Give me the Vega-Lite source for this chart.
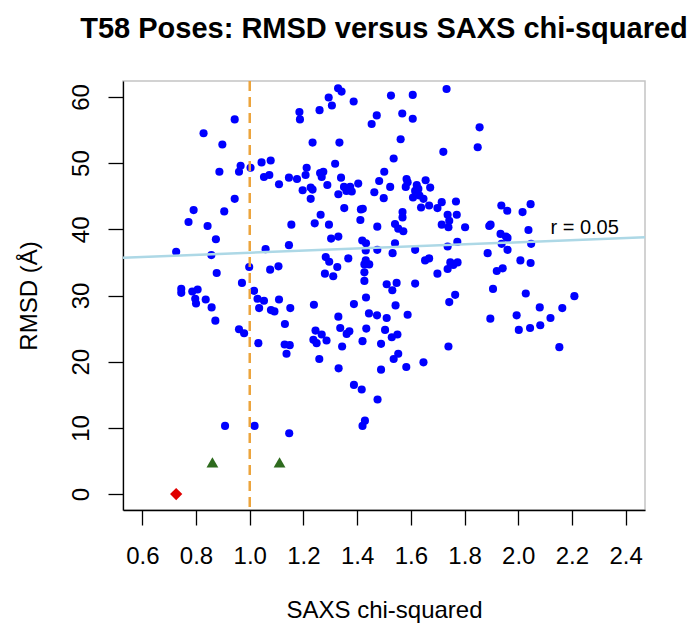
{
"$schema": "https://vega.github.io/schema/vega-lite/v6.json",
"width": 522, "height": 429,
"autosize": {"type": "none"},
"padding": {"left": 123, "top": 81, "right": 54, "bottom": 124},
"background": "white",
"config": {"font": "Liberation Sans", "view": {"stroke": "#c4c4c4", "strokeWidth": 1.5}},
"title": {"text": "T58 Poses: RMSD versus SAXS chi-squared", "font": "Liberation Sans", "fontSize": 29, "fontWeight": "bold", "color": "black", "anchor": "middle", "frame": "group", "offset": 36},
"datasets": {
"poses": [
{"saxs":0.944,"rmsd":56.6},{"saxs":0.828,"rmsd":54.5},{"saxs":0.898,"rmsd":52.8},{"saxs":0.887,"rmsd":48.7},{"saxs":0.960,"rmsd":48.7},{"saxs":0.966,"rmsd":49.6},{"saxs":1.003,"rmsd":49.3},{"saxs":1.044,"rmsd":50.1},{"saxs":1.078,"rmsd":50.4},{"saxs":1.053,"rmsd":47.9},{"saxs":1.073,"rmsd":48.2},{"saxs":1.109,"rmsd":46.8},{"saxs":1.146,"rmsd":47.8},{"saxs":1.176,"rmsd":47.6},{"saxs":0.944,"rmsd":44.6},{"saxs":0.791,"rmsd":42.9},{"saxs":0.905,"rmsd":42.7},{"saxs":0.772,"rmsd":41.1},{"saxs":0.843,"rmsd":40.5},{"saxs":1.155,"rmsd":40.7},{"saxs":0.874,"rmsd":38.5},{"saxs":1.146,"rmsd":37.6},{"saxs":1.059,"rmsd":37.0},{"saxs":0.726,"rmsd":36.6},{"saxs":0.857,"rmsd":36.1},{"saxs":0.998,"rmsd":34.3},{"saxs":1.076,"rmsd":33.9},{"saxs":1.107,"rmsd":34.4},{"saxs":0.877,"rmsd":33.4},{"saxs":0.971,"rmsd":31.9},{"saxs":1.016,"rmsd":30.7},{"saxs":0.745,"rmsd":31.0},{"saxs":0.745,"rmsd":30.4},{"saxs":0.786,"rmsd":30.6},{"saxs":0.806,"rmsd":30.9},{"saxs":0.836,"rmsd":29.4},{"saxs":1.029,"rmsd":29.5},{"saxs":1.053,"rmsd":29.2},{"saxs":1.109,"rmsd":29.4},
{"saxs":0.797,"rmsd":29.5},{"saxs":0.800,"rmsd":28.8},{"saxs":0.858,"rmsd":28.2},{"saxs":0.872,"rmsd":26.2},{"saxs":0.960,"rmsd":24.9},{"saxs":0.979,"rmsd":24.3},{"saxs":1.035,"rmsd":28.1},{"saxs":1.079,"rmsd":27.8},{"saxs":1.092,"rmsd":27.6},{"saxs":1.151,"rmsd":28.1},{"saxs":1.131,"rmsd":25.7},{"saxs":1.032,"rmsd":22.8},{"saxs":1.130,"rmsd":22.6},{"saxs":1.149,"rmsd":22.5},{"saxs":1.137,"rmsd":21.2},{"saxs":0.908,"rmsd":10.3},{"saxs":1.018,"rmsd":10.3},{"saxs":1.147,"rmsd":9.2},
{"saxs":1.329,"rmsd":61.3},{"saxs":1.342,"rmsd":60.8},{"saxs":1.294,"rmsd":59.9},{"saxs":1.306,"rmsd":58.7},{"saxs":1.387,"rmsd":59.3},{"saxs":1.185,"rmsd":57.7},{"saxs":1.187,"rmsd":56.6},{"saxs":1.260,"rmsd":58.0},{"saxs":1.526,"rmsd":60.2},{"saxs":1.607,"rmsd":60.3},{"saxs":1.733,"rmsd":61.2},{"saxs":1.473,"rmsd":57.2},{"saxs":1.454,"rmsd":55.9},{"saxs":1.568,"rmsd":57.5},{"saxs":1.607,"rmsd":56.7},{"saxs":1.234,"rmsd":53.1},{"saxs":1.334,"rmsd":53.1},{"saxs":1.562,"rmsd":53.6},{"saxs":1.721,"rmsd":51.7},{"saxs":1.536,"rmsd":50.7},{"saxs":1.318,"rmsd":49.9},{"saxs":1.212,"rmsd":49.3},{"saxs":1.501,"rmsd":48.7},{"saxs":1.208,"rmsd":48.2},{"saxs":1.262,"rmsd":48.5},{"saxs":1.274,"rmsd":48.7},{"saxs":1.268,"rmsd":47.9},{"saxs":1.340,"rmsd":47.8},{"saxs":1.482,"rmsd":47.3},{"saxs":1.404,"rmsd":46.9},{"saxs":1.289,"rmsd":46.7},{"saxs":1.197,"rmsd":45.9},{"saxs":1.227,"rmsd":46.3},{"saxs":1.234,"rmsd":46.0},{"saxs":1.227,"rmsd":44.6},{"saxs":1.351,"rmsd":46.4},{"saxs":1.360,"rmsd":45.8},{"saxs":1.374,"rmsd":46.4},{"saxs":1.380,"rmsd":45.7},{"saxs":1.330,"rmsd":45.3},{"saxs":1.464,"rmsd":45.6},{"saxs":1.523,"rmsd":46.4},{"saxs":1.499,"rmsd":44.7},{"saxs":1.584,"rmsd":47.6},{"saxs":1.588,"rmsd":47.1},{"saxs":1.581,"rmsd":46.4},{"saxs":1.655,"rmsd":47.4},{"saxs":1.622,"rmsd":46.7},{"saxs":1.616,"rmsd":45.8},{"saxs":1.628,"rmsd":46.1},{"saxs":1.672,"rmsd":46.3},{"saxs":1.608,"rmsd":44.8},{"saxs":1.632,"rmsd":45.1},{"saxs":1.647,"rmsd":44.6},{"saxs":1.638,"rmsd":43.3},{"saxs":1.668,"rmsd":43.6},{"saxs":1.699,"rmsd":43.2},{"saxs":1.715,"rmsd":44.1},{"saxs":1.768,"rmsd":44.2},{"saxs":1.352,"rmsd":43.2},{"saxs":1.414,"rmsd":43.0},{"saxs":1.421,"rmsd":43.1},{"saxs":1.412,"rmsd":41.4},{"saxs":1.264,"rmsd":42.2},{"saxs":1.242,"rmsd":40.9},{"saxs":1.295,"rmsd":40.7},{"saxs":1.475,"rmsd":40.4},{"saxs":1.569,"rmsd":42.6},{"saxs":1.569,"rmsd":41.8},{"saxs":1.541,"rmsd":40.8},{"saxs":1.553,"rmsd":40.1},{"saxs":1.572,"rmsd":39.7},{"saxs":1.737,"rmsd":42.2},{"saxs":1.743,"rmsd":41.3},{"saxs":1.740,"rmsd":40.3},{"saxs":1.771,"rmsd":42.2},{"saxs":1.715,"rmsd":40.7},{"saxs":1.802,"rmsd":40.3},{"saxs":1.303,"rmsd":38.6},{"saxs":1.330,"rmsd":38.9},{"saxs":1.419,"rmsd":38.3},{"saxs":1.433,"rmsd":37.9},{"saxs":1.541,"rmsd":37.9},{"saxs":1.532,"rmsd":36.4},{"saxs":1.432,"rmsd":36.8},{"saxs":1.475,"rmsd":36.9},{"saxs":1.616,"rmsd":36.9},{"saxs":1.737,"rmsd":37.4},{"saxs":1.773,"rmsd":38.1},{"saxs":1.283,"rmsd":35.8},{"saxs":1.296,"rmsd":35.1},{"saxs":1.367,"rmsd":35.6},{"saxs":1.432,"rmsd":35.3},{"saxs":1.445,"rmsd":34.7},{"saxs":1.427,"rmsd":34.7},{"saxs":1.326,"rmsd":34.3},{"saxs":1.280,"rmsd":33.3},{"saxs":1.311,"rmsd":32.9},{"saxs":1.427,"rmsd":33.5},{"saxs":1.427,"rmsd":32.2},{"saxs":1.653,"rmsd":35.3},{"saxs":1.668,"rmsd":35.6},{"saxs":1.699,"rmsd":33.3},{"saxs":1.737,"rmsd":34.0},{"saxs":1.747,"rmsd":35.0},{"saxs":1.758,"rmsd":34.6},{"saxs":1.774,"rmsd":35.0},{"saxs":1.510,"rmsd":31.7},{"saxs":1.547,"rmsd":31.9},{"saxs":1.531,"rmsd":30.8},{"saxs":1.616,"rmsd":31.8},{"saxs":1.765,"rmsd":30.1},{"saxs":1.433,"rmsd":29.7},{"saxs":1.743,"rmsd":29.0},
{"saxs":1.239,"rmsd":28.6},{"saxs":1.388,"rmsd":28.7},{"saxs":1.543,"rmsd":28.5},{"saxs":1.330,"rmsd":26.8},{"saxs":1.444,"rmsd":27.3},{"saxs":1.474,"rmsd":27.0},{"saxs":1.510,"rmsd":26.6},{"saxs":1.588,"rmsd":27.1},{"saxs":1.245,"rmsd":24.7},{"saxs":1.268,"rmsd":24.1},{"saxs":1.237,"rmsd":23.3},{"saxs":1.249,"rmsd":22.8},{"saxs":1.286,"rmsd":23.2},{"saxs":1.337,"rmsd":25.1},{"saxs":1.361,"rmsd":24.2},{"saxs":1.371,"rmsd":24.6},{"saxs":1.434,"rmsd":25.0},{"saxs":1.420,"rmsd":23.1},{"saxs":1.344,"rmsd":22.3},{"saxs":1.504,"rmsd":24.8},{"saxs":1.489,"rmsd":22.7},{"saxs":1.529,"rmsd":23.7},{"saxs":1.550,"rmsd":24.1},{"saxs":1.553,"rmsd":21.2},{"saxs":1.536,"rmsd":20.4},{"saxs":1.259,"rmsd":20.4},{"saxs":1.331,"rmsd":19.0},{"saxs":1.489,"rmsd":18.8},{"saxs":1.583,"rmsd":19.2},{"saxs":1.647,"rmsd":19.9},{"saxs":1.740,"rmsd":22.3},{"saxs":1.388,"rmsd":16.5},{"saxs":1.417,"rmsd":15.8},{"saxs":1.476,"rmsd":14.3},{"saxs":1.429,"rmsd":11.1},{"saxs":1.420,"rmsd":10.3},
{"saxs":1.856,"rmsd":55.4},{"saxs":1.849,"rmsd":52.4},{"saxs":1.937,"rmsd":43.6},{"saxs":1.959,"rmsd":42.8},{"saxs":2.016,"rmsd":42.6},{"saxs":2.046,"rmsd":43.8},{"saxs":1.892,"rmsd":40.5},{"saxs":1.897,"rmsd":40.7},{"saxs":2.038,"rmsd":39.9},{"saxs":1.934,"rmsd":39.3},{"saxs":1.954,"rmsd":38.9},{"saxs":1.960,"rmsd":38.7},{"saxs":1.938,"rmsd":37.8},{"saxs":1.960,"rmsd":36.9},{"saxs":2.048,"rmsd":37.8},{"saxs":1.886,"rmsd":36.4},{"saxs":2.008,"rmsd":35.3},{"saxs":2.046,"rmsd":34.9},{"saxs":1.920,"rmsd":33.7},{"saxs":1.942,"rmsd":34.1},{"saxs":1.906,"rmsd":31.0},{"saxs":2.028,"rmsd":30.3},{"saxs":2.209,"rmsd":29.9},
{"saxs":2.080,"rmsd":28.2},{"saxs":2.164,"rmsd":28.1},{"saxs":1.896,"rmsd":26.5},{"saxs":1.994,"rmsd":27.0},{"saxs":2.120,"rmsd":26.6},{"saxs":2.002,"rmsd":24.8},{"saxs":2.044,"rmsd":25.1},{"saxs":2.082,"rmsd":25.5},{"saxs":2.153,"rmsd":22.2}
],
"native": [{"saxs":0.726,"rmsd":0.0}],
"near": [{"saxs":0.861,"rmsd":4.8},{"saxs":1.111,"rmsd":4.8}],
"fit": [{"saxs":0.528,"rmsd":35.7},{"saxs":2.472,"rmsd":38.8}],
"note": [{"saxs":2.12,"rmsd":39.3,"label":"r = 0.05"}]
},
"layer": [
{
"data": {"name": "poses"},
"mark": {"type": "point", "filled": true, "opacity": 1, "color": "#0000ff", "size": 66},
"encoding": {
"x": {"field": "saxs", "type": "quantitative",
"scale": {"domain": [0.528, 2.472], "nice": false, "zero": false},
"axis": {"title": "SAXS chi-squared", "values": [0.6,0.8,1,1.2,1.4,1.6,1.8,2,2.2,2.4], "format": ".1f", "grid": false,
"tickSize": 15, "tickWidth": 1.3, "tickColor": "black", "domainColor": "black", "domainWidth": 1.3,
"labelFont": "Liberation Sans", "labelFontSize": 24, "labelColor": "black", "labelPadding": 19, "labelFlush": false, "labelOverlap": false,
"titleFont": "Liberation Sans", "titleFontSize": 24, "titleFontWeight": "normal", "titleColor": "black",
"titleBaseline": "alphabetic", "titleAlign": "center", "titleX": 261, "titleY": 107}},
"y": {"field": "rmsd", "type": "quantitative",
"scale": {"domain": [-2.4, 62.4], "nice": false, "zero": false},
"axis": {"title": "RMSD (Å)", "values": [0,10,20,30,40,50,60], "grid": false,
"tickSize": 15, "tickWidth": 1.3, "tickColor": "black", "domainColor": "black", "domainWidth": 1.3,
"labelFont": "Liberation Sans", "labelFontSize": 24, "labelColor": "black", "labelAngle": 270, "labelAlign": "center", "labelBaseline": "bottom", "labelPadding": 15, "labelOverlap": false,
"titleFont": "Liberation Sans", "titleFontSize": 24, "titleFontWeight": "normal", "titleColor": "black",
"titleAngle": 270, "titleBaseline": "alphabetic", "titleAlign": "center", "titleX": -87, "titleY": 214.5}}
}
},
{
"data": {"name": "native"},
"mark": {"type": "point", "filled": true, "opacity": 1, "shape": "diamond", "color": "#e00000", "size": 150},
"encoding": {"x": {"field": "saxs", "type": "quantitative"}, "y": {"field": "rmsd", "type": "quantitative"}}
},
{
"data": {"name": "near"},
"mark": {"type": "point", "filled": true, "opacity": 1, "shape": "triangle-up", "color": "#2e6b1e", "size": 140},
"encoding": {"x": {"field": "saxs", "type": "quantitative"}, "y": {"field": "rmsd", "type": "quantitative"}}
},
{
"data": {"name": "fit"},
"mark": {"type": "line", "color": "#add8e6", "strokeWidth": 2.5},
"encoding": {"x": {"field": "saxs", "type": "quantitative"}, "y": {"field": "rmsd", "type": "quantitative"}}
},
{
"data": {"values": [{}]},
"mark": {"type": "rule", "color": "#eca43c", "strokeWidth": 2.5, "strokeDash": [10, 6]},
"encoding": {"x": {"datum": 1}}
},
{
"data": {"name": "note"},
"mark": {"type": "text", "align": "left", "baseline": "alphabetic", "fontSize": 20, "font": "Liberation Sans", "color": "black"},
"encoding": {"x": {"field": "saxs", "type": "quantitative"}, "y": {"field": "rmsd", "type": "quantitative"}, "text": {"field": "label"}}
}
]
}
